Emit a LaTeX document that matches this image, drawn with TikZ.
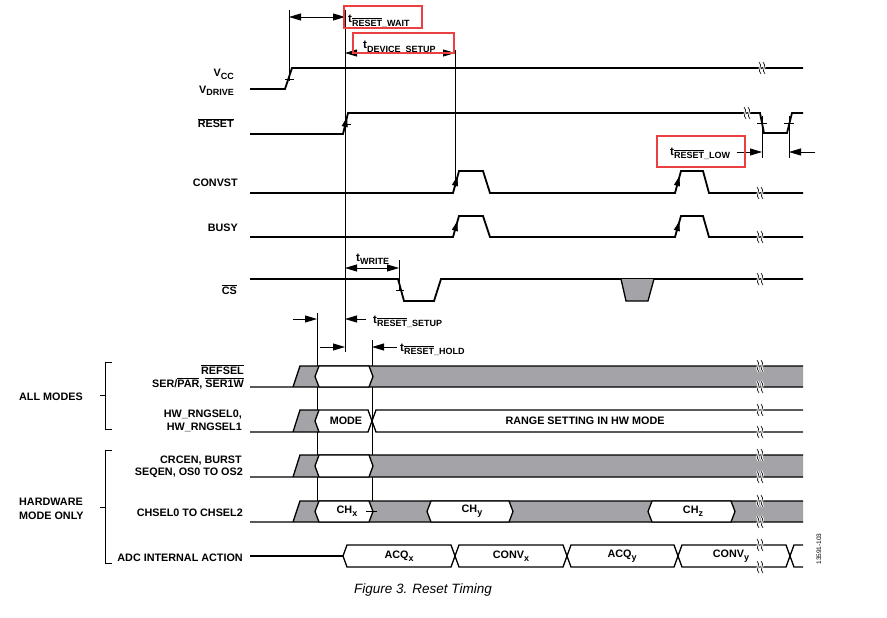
\documentclass[tikz,border=0pt]{standalone}
\usepackage{fontspec}
\setmainfont{Liberation Sans}
\usetikzlibrary{arrows.meta}
\usetikzlibrary{calc}

\definecolor{busgray}{RGB}{163,163,168}
\definecolor{boxred}{RGB}{236,64,64}

\newcommand{\ovl}[1]{$\overline{\mbox{#1}}$}
\newcommand{\lowsub}[1]{\raisebox{-0.5ex}{\fontsize{9}{9}\selectfont #1}}
\newcommand{\brkmark}[2]{%
  \foreach \bx in {0,4}{%
    \draw[white,line width=2.4pt] (#1+\bx-1,#2-6) .. controls (#1+\bx+3.5,#2-2) and (#1+\bx-3.5,#2+2) .. (#1+\bx+1,#2+6);
    \draw[line width=0.6pt] (#1+\bx-1,#2-6) .. controls (#1+\bx+3.5,#2-2) and (#1+\bx-3.5,#2+2) .. (#1+\bx+1,#2+6);}}
\newcommand{\bushex}[4]{%
  \filldraw[fill=white,bus] (#1+4,#3) -- (#1,#3/2+#4/2) -- (#1+4,#4) -- (#2-4,#4) -- (#2,#3/2+#4/2) -- (#2-4,#3) -- cycle;}

\begin{document}
\begin{tikzpicture}[x=1pt,y=-1pt,
  sig/.style={line width=1.8pt},
  bus/.style={line width=1.3pt},
  tline/.style={line width=0.8pt},
  tip/.style={-{Triangle[length=12pt,width=7pt]},line width=0.8pt},
  dtip/.style={{Triangle[length=12pt,width=7pt]}-{Triangle[length=12pt,width=7pt]},line width=0.8pt},
  etip/.style={-{Triangle[length=10pt,width=6pt]},line width=0.8pt},
  lab/.style={font=\fontsize{10.8}{12.8}\selectfont\bfseries,inner sep=0pt,anchor=base east},
  tlab/.style={font=\fontsize{11.5}{13}\selectfont\bfseries,inner sep=0pt,anchor=base west},
  redbox/.style={draw=boxred,line width=2.4pt}]
\useasboundingbox (0,0) rectangle (887,618);

% timing lines
\draw[tline] (289,10) -- (289,81);
\draw[tline] (345,10) -- (345,352);
\draw[tline] (455,50) -- (455,187);
\draw[tline] (399,260) -- (399,291);
\draw[tline] (762,116) -- (762,158);
\draw[tline] (789,116) -- (789,158);
\draw[tline] (317,313) -- (317,501);
\draw[tline] (372,340) -- (372,501);

% signals
\draw[sig] (250,89) -- (285,89) -- (292,68) -- (803,68);
\draw[tline] (285,79) -- (294,79);
\brkmark{760}{68}

\draw[sig] (250,134) -- (343,134) -- (348,113) -- (760,113) -- (764,133) -- (787,133) -- (792,113) -- (803,113);
\draw[etip] (343,134) -- (347,117);
\draw[tline] (345,124) -- (351,124) (757,123) -- (767,123) (784,123) -- (794,123);
\brkmark{745}{113}

\foreach \lo/\hi in {193/171,237/216}{
  \draw[sig] (250,\lo) -- (453,\lo) -- (459,\hi) -- (483,\hi) -- (490,\lo) -- (675,\lo) -- (681,\hi) -- (703,\hi) -- (709,\lo) -- (803,\lo);
  \draw[etip] (453,\lo) -- (457.5,\hi+5);
  \draw[etip] (675,\lo) -- (679.5,\hi+5);
  \brkmark{758}{\lo}}

\draw[sig] (250,279) -- (398,279) -- (404,301) -- (434,301) -- (441,279) -- (803,279);
\filldraw[fill=busgray,bus] (621,279) -- (626,301) -- (648,301) -- (654,279);
\draw[tline] (396,290) -- (404,290);
\brkmark{758}{279}

% timing arrows
\coordinate (rw0) at (289,17); \coordinate (rw1) at (345,17);
\coordinate (ds0) at (345,53); \coordinate (ds1) at (455,53);
\coordinate (wr0) at (345,268); \coordinate (wr1) at (399,268);
\coordinate (lo0) at (762,152); \coordinate (lo1) at (789,152);
\coordinate (su0) at (317,319); \coordinate (su1) at (345,319);
\coordinate (ho0) at (345,347); \coordinate (ho1) at (372,347);
\draw[dtip] (rw0) -- (rw1);
\draw[dtip] (ds0) -- (ds1);
\draw[dtip] (wr0) -- (wr1);
\draw[tip] ($(lo0)+(-25,0)$) -- (lo0);
\draw[tip] ($(lo1)+(26,0)$) -- (lo1);
\draw[tip] ($(su0)+(-24,0)$) -- (su0);
\draw[tip] ($(su1)+(21,0)$) -- (su1);
\draw[tip] ($(ho0)+(-25,0)$) -- (ho0);
\draw[tip] ($(ho1)+(25,0)$) -- (ho1);

\node[tlab] (twait) at (348,23) {t\lowsub{\ovl{RESET}\_WAIT}};
\node[tlab] (tdev) at (363,49) {t\lowsub{DEVICE\_SETUP}};
\node[tlab] (tlow) at (670,155) {t\lowsub{\ovl{RESET}\_LOW}};
\node[tlab] (twrite) at (356,261) {t\lowsub{WRITE}};
\node[tlab] (tsetup) at (373,323) {t\lowsub{\ovl{RESET}\_SETUP}};
\node[tlab] (thold) at (400,351) {t\lowsub{\ovl{RESET}\_HOLD}};
\draw[redbox] (344,6) rectangle (422,28);
\draw[redbox] (353,33) rectangle (454,53);
\draw[redbox] (657,136) rectangle (745,167);

% bus rows
\foreach \ya/\yb in {366/387,455/477,501/522}{
  \fill[busgray] (293,\yb) -- (300,\ya) -- (803,\ya) -- (803,\yb) -- cycle;
  \draw[bus] (250,\yb) -- (803,\yb) (293,\yb) -- (300,\ya) -- (803,\ya);
  \bushex{315}{373}{\ya}{\yb}
  \brkmark{758}{\ya} \brkmark{758}{\yb}}
\bushex{427}{513}{501}{522}
\bushex{648}{735}{501}{522}
\draw[tline] (366,511) -- (377,511);

\fill[busgray] (293,432) -- (300,410) -- (320,410) -- (320,432) -- cycle;
\draw[bus] (250,432) -- (319,432) (293,432) -- (300,410) -- (319,410);
\bushex{315}{372}{410}{432}
\draw[bus] (803,410) -- (376,410) -- (372,421) -- (376,432) -- (803,432);
\brkmark{758}{410} \brkmark{758}{432}

\draw[bus] (250,556) -- (343,556);
\bushex{343}{455}{545}{567}
\bushex{455}{567}{545}{567}
\bushex{567}{678}{545}{567}
\bushex{678}{790}{545}{567}
\draw[bus] (803,545) -- (794,545) -- (790,556) -- (794,567) -- (803,567);
\brkmark{758}{545} \brkmark{758}{567}

\node[lab,anchor=center] (mode) at (346,421) {MODE};
\node[lab,anchor=center] (range) at (585,421) {RANGE SETTING IN HW MODE};
\node[lab,anchor=center] (chx) at (347,511) {CH\lowsub{x}};
\node[lab,anchor=center] (chy) at (472,511) {CH\lowsub{y}};
\node[lab,anchor=center] (chz) at (693,511) {CH\lowsub{z}};
\node[lab,anchor=center] (acqx) at (399,556) {ACQ\lowsub{x}};
\node[lab,anchor=center] (convx) at (511,556) {CONV\lowsub{x}};
\node[lab,anchor=center] (acqy) at (622,556) {ACQ\lowsub{y}};
\node[lab,anchor=center] (convy) at (731,556) {CONV\lowsub{y}};

% signal names
\node[lab] (vcc) at (234,77) {V\lowsub{CC}};
\node[lab] (vdrive) at (234,93) {V\lowsub{DRIVE}};
\node[lab] (reset) at (234,128) {\ovl{RESET}};
\node[lab] (convst) at (238,186) {CONVST};
\node[lab] (busy) at (238,231) {BUSY};
\node[lab] (cs) at (237,294) {\ovl{CS}};
\node[lab] (refsel) at (244,374) {\ovl{REFSEL}};
\node[lab] (serpar) at (244,387) {SER/\ovl{PAR}, \ovl{SER1W}};
\node[lab] (rng0) at (242,417) {HW\_RNGSEL0,};
\node[lab] (rng1) at (242,430) {HW\_RNGSEL1};
\node[lab] (crcen) at (242,463) {CRCEN, BURST};
\node[lab] (seqen) at (243,475) {SEQEN, OS0 TO OS2};
\node[lab] (chsel) at (243,516) {CHSEL0 TO CHSEL2};
\node[lab] (adc) at (243,561) {ADC INTERNAL ACTION};

% groups
\draw[tline] (112,362) -- (105,362) -- (105,429) -- (112,429) (100,395) -- (105,395);
\draw[tline] (112,450) -- (105,450) -- (105,563) -- (112,563) (100,507) -- (105,507);
\node[lab,anchor=base west] (allm) at (19,400) {ALL MODES};
\node[lab,anchor=base west] (hwm) at (19,505) {HARDWARE};
\node[lab,anchor=base west] (hwmo) at (19,519) {MODE ONLY};

\node[rotate=90,font=\fontsize{6.5}{7}\selectfont] (code) at (819,549) {13591-103};
\node[font=\fontsize{13.5}{15}\selectfont\itshape] (fig) at (423,590) {Figure 3. Reset Timing};
\end{tikzpicture}
\end{document}
